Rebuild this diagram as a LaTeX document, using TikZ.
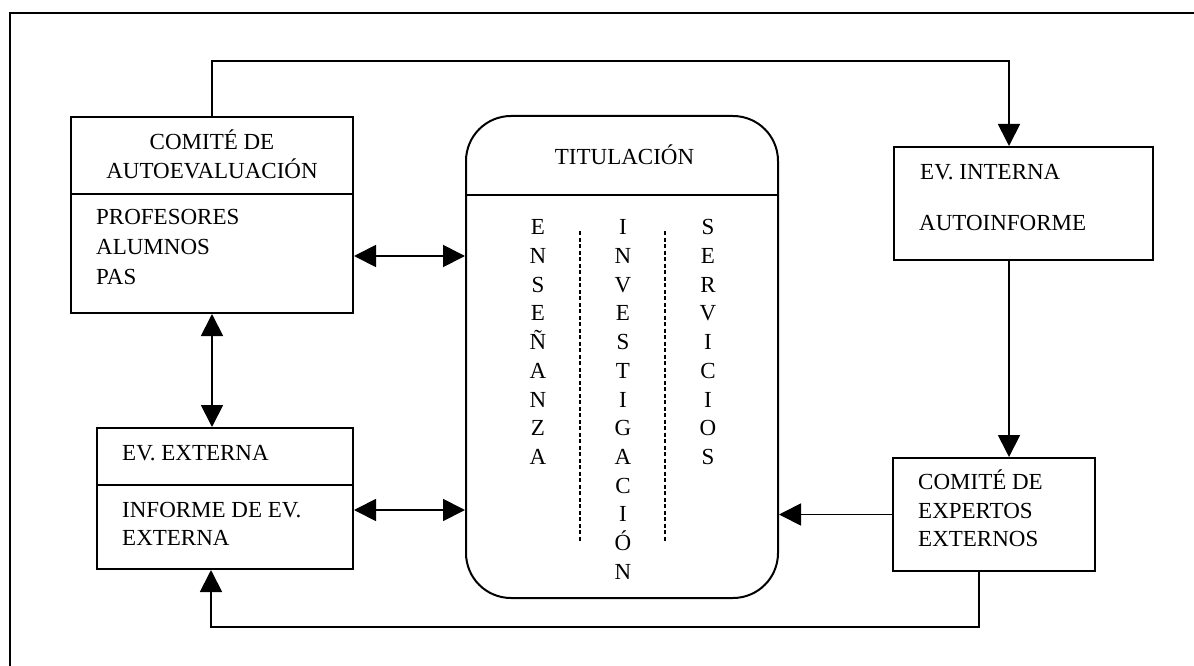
\documentclass[tikz,border=0pt]{standalone}
\usepackage{fontspec}
\setmainfont{Liberation Serif}
\usetikzlibrary{arrows.meta,calc}

\begin{document}
\begin{tikzpicture}[x=1pt,y=-1pt,
  box/.style={draw,line width=2pt,inner sep=0pt},
  sep/.style={line width=2pt},
  link/.style={line width=1.8pt},
  tip/.style={-{Triangle[length=22pt,width=22pt]}},
  both/.style={{Triangle[length=22pt,width=22pt]}-{Triangle[length=22pt,width=22pt]}},
  txt/.style={inner sep=0pt,text height=14.6pt,text depth=0pt,font=\fontsize{23}{28}\selectfont},
  guide/.style={line width=1.5pt,dash pattern=on 4pt off 2.5pt}]

\useasboundingbox (0,0) rectangle (1194,666);
% outer frame (left and top sides)
\draw[line width=2pt] (10,666) -- (10,13) -- (1194,13);

% boxes
\node[box,minimum width=282pt,minimum height=196pt] (ca) at (212,215) {};
\node[box,rounded corners=45pt,minimum width=312pt,minimum height=482pt] (tit) at (622,357) {};
\node[box,minimum width=259pt,minimum height=113pt] (ei) at (1023.5,203.5) {};
\node[box,minimum width=202pt,minimum height=113pt] (ce) at (994,514.5) {};
\node[box,minimum width=256pt,minimum height=141pt] (ee) at (225,498.5) {};

% compartment dividers
\draw[sep] (ca.west |- 0,194) -- (ca.east |- 0,194);
\draw[sep] (tit.west |- 0,195) -- (tit.east |- 0,195);
\draw[sep] (ee.west |- 0,485) -- (ee.east |- 0,485);

% dashed column separators
\draw[guide] (580,231) -- (580,541);
\draw[guide] (665,231) -- (665,541);

% connectors
\coordinate (up) at (1009,61);
\draw[link,tip] (ca.north) |- (up) -- (up |- ei.north);
\draw[link,tip] (up |- ei.south) -- (up |- ce.north);
\draw[link,tip] (ce.west) -- (ce.west -| tit.east);
\coordinate (dr) at (979,627);
\coordinate (dl) at (211,627);
\draw[link,tip] (dr |- ce.south) -- (dr) -- (dl) -- (dl |- ee.south);
\draw[link,both] (ca.east |- 0,256) -- (tit.west |- 0,256);
\draw[link,both] (ee.east |- 0,510) -- (tit.west |- 0,510);
\draw[link,both] (ca.south) -- (ca.south |- ee.north);

% labels
\node[txt] (ca1) at (212,142) {COMITÉ DE};
\node[txt] (ca2) at (212,171) {AUTOEVALUACIÓN};
\node[txt,anchor=west] (ca3) at (96,217) {PROFESORES};
\node[txt,anchor=west] (ca4) at (96,247) {ALUMNOS};
\node[txt,anchor=west] (ca5) at (96,277) {PAS};
\node[txt] (t0) at (624.5,157) {TITULACIÓN};
\node[txt,anchor=west] (ei1) at (920,172) {EV. INTERNA};
\node[txt,anchor=west] (ei2) at (919,223) {AUTOINFORME};
\node[txt,anchor=west] (ce1) at (918,482) {COMITÉ DE};
\node[txt,anchor=west] (ce2) at (918,511) {EXPERTOS};
\node[txt,anchor=west] (ce3) at (918,539.5) {EXTERNOS};
\node[txt,anchor=west] (ee1) at (122,453) {EV. EXTERNA};
\node[txt,anchor=west] (ee2) at (122,510) {INFORME DE EV.};
\node[txt,anchor=west] (ee3) at (122,538) {EXTERNA};

% vertical column words
\foreach \c [count=\i] in {E,N,S,E,Ñ,A,N,Z,A}
  \node[txt] (en\i) at (538,227.5+28.7*\i-28.7) {\c};
\foreach \c [count=\i] in {I,N,V,E,S,T,I,G,A,C,I,Ó,N}
  \node[txt] (in\i) at (623,227.5+28.7*\i-28.7) {\c};
\foreach \c [count=\i] in {S,E,R,V,I,C,I,O,S}
  \node[txt] (se\i) at (708,227.5+28.7*\i-28.7) {\c};
\end{tikzpicture}
\end{document}
